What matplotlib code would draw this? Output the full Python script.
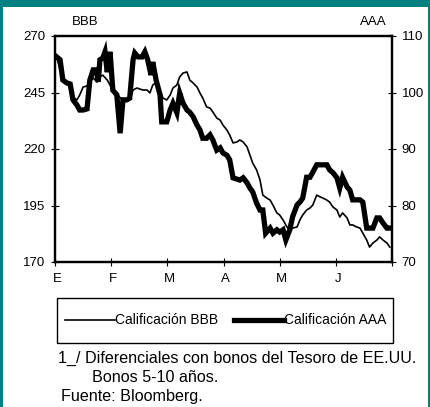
import matplotlib.pyplot as plt
from matplotlib.patches import Rectangle
from matplotlib.transforms import ScaledTranslation

plt.rcParams["font.family"] = ["Liberation Sans", "DejaVu Sans"]

# x in months since start of January (0 = E, 6 = end of J)
MONTHS = ["E", "F", "M", "A", "M", "J"]

bbb_x = [0.03, 0.14, 0.27, 0.32, 0.39, 0.44, 0.50, 0.57, 0.62, 0.68, 0.75, 0.80,
         0.85, 0.93, 0.98, 1.03, 1.10, 1.16, 1.21, 1.28, 1.33, 1.39, 1.46, 1.51,
         1.57, 1.64, 1.69, 1.74, 1.81, 1.87, 1.92, 1.99, 2.05, 2.10, 2.17, 2.22,
         2.28, 2.35, 2.40, 2.46, 2.53, 2.58, 2.63, 2.70, 2.76, 2.81, 2.88, 2.94,
         2.99, 3.06, 3.11, 3.17, 3.24, 3.29, 3.35, 3.42, 3.47, 3.52, 3.59, 3.65,
         3.70, 3.77, 3.83, 3.88, 3.95, 4.00, 4.06, 4.13, 4.18, 4.23, 4.31, 4.36,
         4.41, 4.48, 4.54, 4.59, 4.66, 4.72, 4.77, 4.84, 4.89, 4.95, 5.02, 5.07,
         5.12, 5.20, 5.25, 5.30, 5.37, 5.43, 5.48, 5.55, 5.60, 5.66, 5.73, 5.78,
         5.84, 5.91, 5.96]
bbb_y = [260.7, 250.5, 248.3, 243.0, 241.7, 243.9, 247.4, 247.9, 249.6, 251.4,
         249.6, 251.9, 252.7, 250.5, 248.3, 245.2, 244.8, 242.6, 241.7, 241.7,
         241.7, 246.1, 247.0, 246.5, 246.1, 246.1, 244.8, 248.3, 249.6, 246.1,
         242.6, 241.7, 243.9, 247.0, 248.3, 251.9, 253.6, 254.1, 250.5, 249.2,
         247.4, 244.8, 242.6, 238.6, 238.1, 236.4, 233.7, 232.8, 230.6, 228.4,
         226.2, 222.7, 223.1, 224.0, 223.1, 220.9, 217.3, 213.8, 210.7, 206.3,
         199.6, 198.3, 197.4, 195.2, 191.7, 190.8, 188.6, 185.5, 184.2, 185.0,
         185.5, 188.6, 190.8, 193.0, 193.9, 195.2, 199.6, 198.8, 198.3, 197.4,
         196.5, 194.3, 193.0, 189.9, 191.7, 189.5, 186.4, 186.4, 185.5, 185.0,
         182.8, 179.7, 176.6, 178.4, 179.7, 181.1, 179.7, 178.4, 176.6]

aaa_x = [0.03, 0.09, 0.14, 0.21, 0.27, 0.32, 0.39, 0.44, 0.50, 0.57, 0.62, 0.68,
         0.73, 0.77, 0.80, 0.85, 0.89, 0.93, 0.98, 1.03, 1.10, 1.16, 1.21, 1.28,
         1.33, 1.39, 1.42, 1.48, 1.55, 1.60, 1.65, 1.71, 1.74, 1.80, 1.87, 1.90,
         1.99, 2.05, 2.10, 2.17, 2.22, 2.28, 2.35, 2.40, 2.46, 2.53, 2.58, 2.63,
         2.70, 2.76, 2.81, 2.88, 2.94, 2.99, 3.06, 3.11, 3.17, 3.29, 3.35, 3.42,
         3.47, 3.52, 3.59, 3.65, 3.70, 3.75, 3.83, 3.88, 3.95, 4.00, 4.06, 4.11,
         4.18, 4.23, 4.31, 4.36, 4.41, 4.48, 4.54, 4.59, 4.66, 4.84, 4.89, 4.95,
         5.02, 5.07, 5.12, 5.20, 5.25, 5.30, 5.37, 5.43, 5.48, 5.55, 5.60, 5.66,
         5.73, 5.78, 5.84, 5.91, 5.96]
aaa_y = [106.3, 105.8, 102.2, 101.7, 101.5, 98.7, 97.8, 96.9, 96.9, 97.1, 102.2,
         104.0, 104.0, 101.9, 105.8, 106.1, 107.2, 103.6, 107.2, 100.4, 99.6,
         92.8, 98.7, 98.7, 99.0, 105.8, 107.0, 106.3, 106.3, 107.2, 105.8, 103.1,
         105.4, 102.2, 99.6, 94.8, 94.8, 96.9, 98.1, 96.4, 99.9, 98.1, 96.9, 96.5,
         95.7, 94.2, 93.4, 91.9, 91.9, 92.5, 91.6, 89.8, 90.2, 89.3, 88.9, 88.1,
         84.9, 84.5, 84.9, 84.0, 83.1, 82.4, 80.4, 79.2, 79.2, 75.1, 76.0, 75.1,
         75.7, 75.3, 75.7, 73.9, 75.7, 78.0, 80.1, 80.6, 81.3, 85.0, 85.0, 85.9,
         87.2, 87.2, 86.3, 85.8, 84.9, 83.1, 85.0, 83.3, 82.7, 81.0, 81.0, 81.0,
         80.6, 76.0, 76.0, 76.0, 77.8, 77.8, 76.9, 76.0, 76.0]

W, H = 430, 407
fig = plt.figure(figsize=(W / 100, H / 100), dpi=100)
fig.patch.set_facecolor("#008080")
fig.patches.append(Rectangle((3 / W, 0), 425 / W, 400 / H, transform=fig.transFigure,
                             facecolor="white", edgecolor="none", zorder=-10))

ax = fig.add_axes([55 / W, 145 / H, 337 / W, 226 / H])
ax2 = ax.twinx()

l1, = ax.plot(bbb_x, bbb_y, color="black", lw=1.2)
l2, = ax2.plot(aaa_x, aaa_y, color="black", lw=3.8, solid_joinstyle="miter")

ax.set_xlim(0, 6)
ax.set_ylim(170, 270)
ax2.set_ylim(70, 110)
ax.set_yticks([170, 195, 220, 245, 270])
ax2.set_yticks([70, 80, 90, 100, 110])
ax.set_xticks(range(7))
ax.set_xticklabels(MONTHS + [""])
ax.set_facecolor("none")

for a in (ax, ax2):
    for s in a.spines.values():
        s.set_linewidth(1.6)
    a.tick_params(direction="inout", length=6, width=0.8, labelsize=9.5)
ax.tick_params(axis="x", pad=5)
ax.tick_params(axis="y", pad=4)
ax2.tick_params(axis="y", pad=4)
shift = ScaledTranslation(2 / 100, 0, fig.dpi_scale_trans)
for lab in ax.get_xticklabels():
    lab.set_transform(lab.get_transform() + shift)

ax.text(0.05, 1.035, "BBB", transform=ax.transAxes, fontsize=9.5, ha="left", va="bottom")
ax2.text(0.985, 1.035, "AAA", transform=ax2.transAxes, fontsize=9.5, ha="right", va="bottom")

# legend box drawn separately so its size matches the original frame
fig.patches.append(Rectangle((57 / W, 1 - 343 / H), 336 / W, 45 / H,
                             transform=fig.transFigure, facecolor="none",
                             edgecolor="black", lw=1.0))
fig.legend([l1, l2], ["Calificación BBB", "Calificación AAA"],
           loc="center", bbox_to_anchor=(226 / W, 1 - 320.5 / H),
           ncol=2, fontsize=10, frameon=False,
           handlelength=3.6, handletextpad=0.0,
           columnspacing=1.15, borderpad=0, borderaxespad=0)

fig.text(58 / W, 1 - 358 / H, "1_/ Diferenciales con bonos del Tesoro de EE.UU.",
         fontsize=11.6, va="center", ha="left")
fig.text(92 / W, 1 - 378 / H, "Bonos 5-10 años.", fontsize=11.6, va="center", ha="left")
fig.text(61 / W, 1 - 397 / H, "Fuente: Bloomberg.", fontsize=11.6, va="center", ha="left")

fig.savefig("out.png", dpi=100)
